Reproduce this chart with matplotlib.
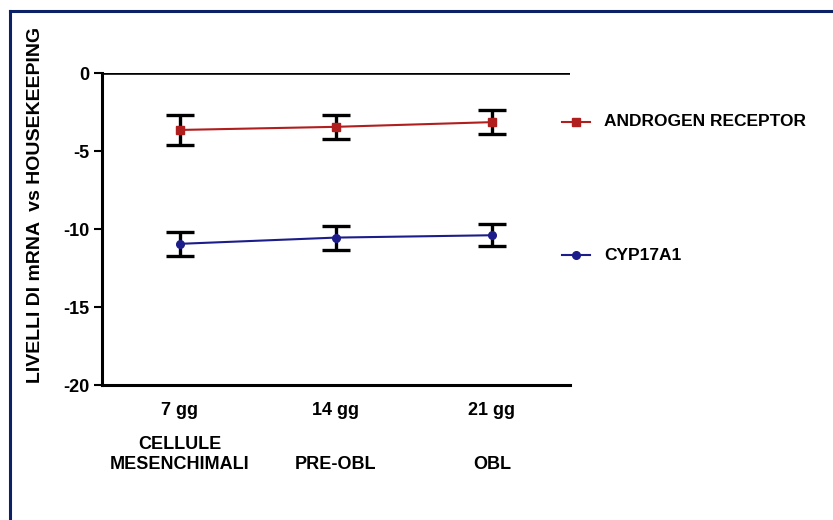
import matplotlib.pyplot as plt
from matplotlib.lines import Line2D

plt.rcParams["font.family"] = ["Liberation Sans", "DejaVu Sans"]
plt.rcParams["font.weight"] = "bold"

days = ["7 gg", "14 gg", "21 gg"]
stages = ["CELLULE\nMESENCHIMALI", "PRE-OBL", "OBL"]

ar_mean = [-3.65, -3.45, -3.15]
ar_err = [0.95, 0.75, 0.78]
cyp_mean = [-10.95, -10.55, -10.4]
cyp_err = [0.75, 0.77, 0.72]

red = "#b01e1e"
blue = "#1c1c8a"
navy = "#0b2266"

fig = plt.figure(figsize=(8.33, 5.2), dpi=100)
ax = fig.add_axes([0.1225, 0.2596, 0.5615, 0.6])

x = list(range(len(days)))

for mean, err, col, mk in [(ar_mean, ar_err, red, "s"), (cyp_mean, cyp_err, blue, "o")]:
    ax.errorbar(x, mean, yerr=err, fmt="none", ecolor="black", elinewidth=2.4,
                capsize=10, capthick=2.4, zorder=2)
    ax.plot(x, mean, color=col, lw=1.5, marker=mk, ms=5.5, zorder=3)

ax.axhline(0, color="black", lw=2.6, zorder=1)

ax.set_xlim(-0.5, 2.5)
ax.set_ylim(-20, 0)
ax.set_yticks([0, -5, -10, -15, -20])
ax.set_yticklabels(["0", "-5", "-10", "-15", "-20"])
ax.set_xticks(x)
ax.set_xticklabels(days)

for s in ["top", "right"]:
    ax.spines[s].set_visible(False)
for s in ["left", "bottom"]:
    ax.spines[s].set_linewidth(2.2)

ax.tick_params(axis="y", length=6, width=1.5, labelsize=13, pad=3)
ax.tick_params(axis="x", length=0, labelsize=13, pad=12)

for xi, lab in zip(x, stages):
    ax.text(xi, -0.282, lab, transform=ax.get_xaxis_transform(),
            ha="center", va="bottom", fontsize=13, fontweight="bold",
            linespacing=1.2)

fig.text(0.043, 0.606, "LIVELLI DI mRNA  vs HOUSEKEEPING", rotation=90,
         ha="center", va="center", fontsize=14, fontweight="bold")

# legend entries placed to the right of the plot
entries = [("ANDROGEN RECEPTOR", red, "s", 122), ("CYP17A1", blue, "o", 255)]
for label, col, mk, ypix in entries:
    yf = 1 - ypix / 520
    fig.add_artist(Line2D([562 / 833, 576 / 833, 590 / 833], [yf, yf, yf], color=col,
                          lw=1.5, marker=mk, markevery=[1], ms=5.5,
                          transform=fig.transFigure))
    fig.text(604 / 833, yf, label, ha="left", va="center", fontsize=12.5,
             fontweight="bold")

# page border (top and left edges)
fig.add_artist(Line2D([10 / 833, 1.0], [1 - 11 / 520, 1 - 11 / 520], color=navy,
                      lw=2.2, transform=fig.transFigure))
fig.add_artist(Line2D([10 / 833, 10 / 833], [0, 1 - 11 / 520], color=navy,
                      lw=2.2, transform=fig.transFigure))

fig.savefig("out.png", dpi=100)
